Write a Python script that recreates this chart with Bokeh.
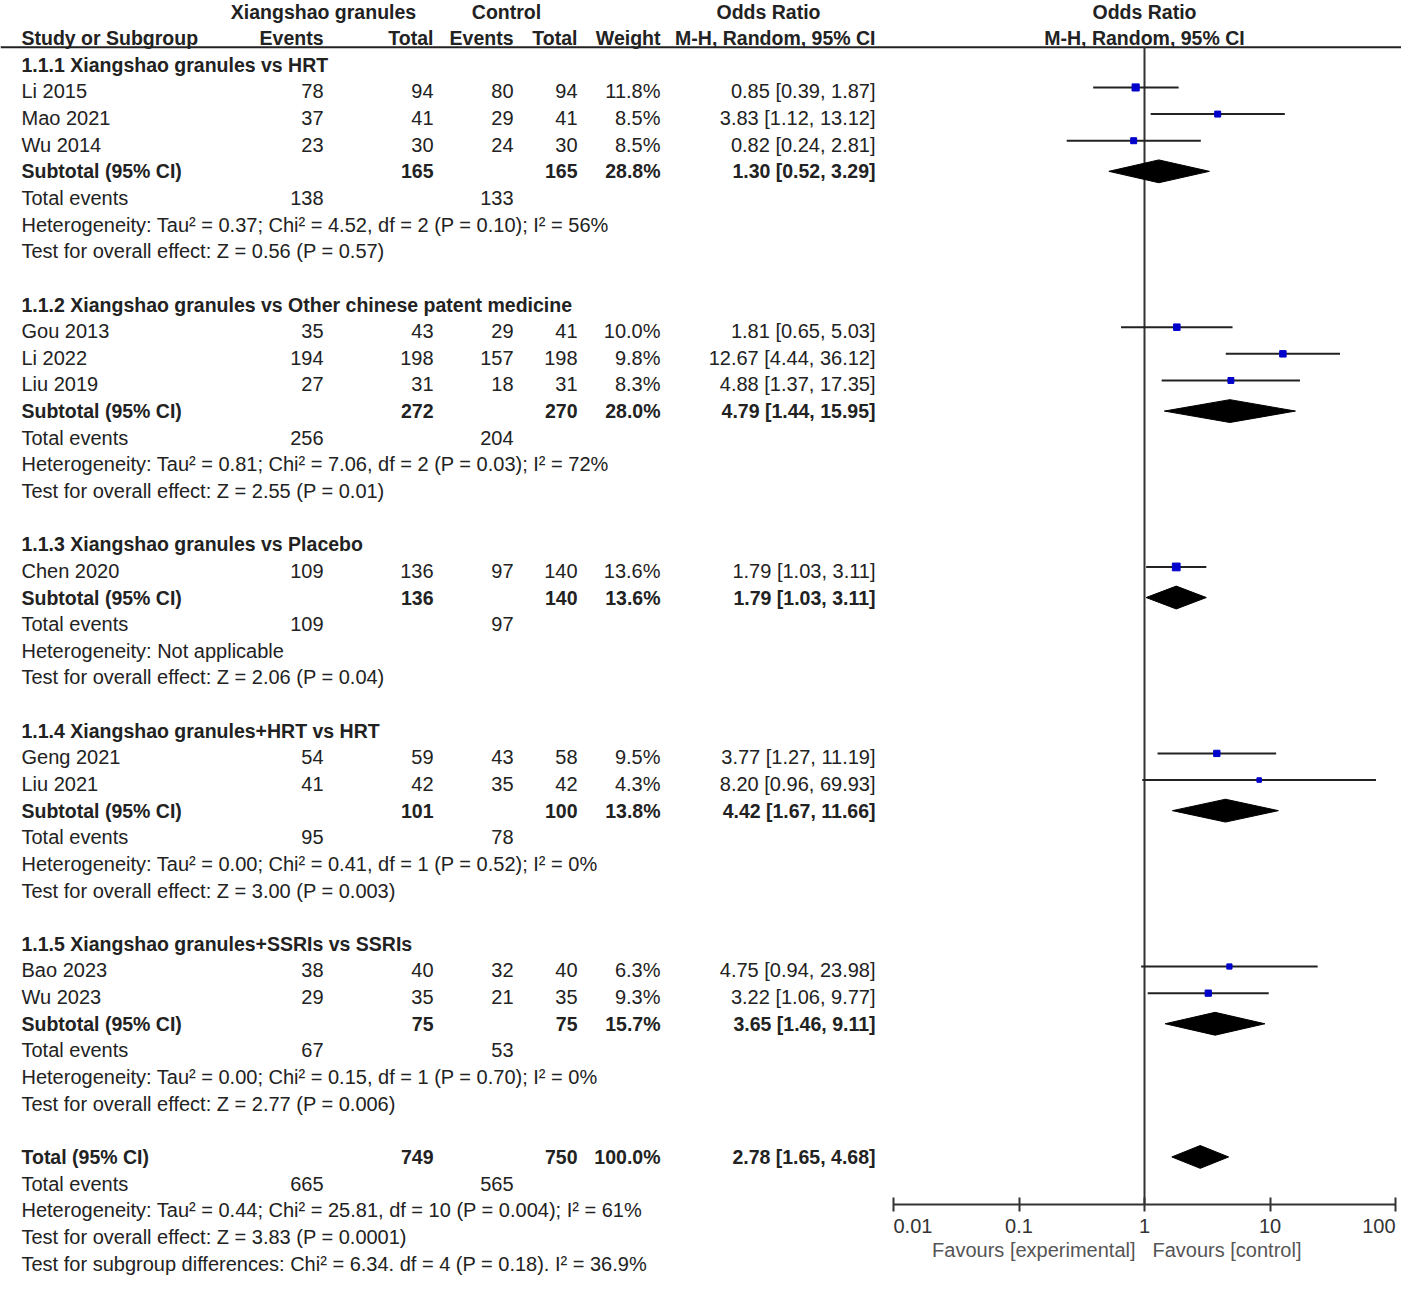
from bokeh.plotting import figure
from bokeh.models import ColumnDataSource, Range1d, LogScale, LogAxis, FixedTicker, CustomJSTickFormatter
from bokeh.core.properties import value
from bokeh.embed import file_html
from bokeh.resources import INLINE

# ---------------- data ----------------
groups = [
    "1.1.1 Xiangshao granules vs HRT",
    "1.1.2 Xiangshao granules vs Other chinese patent medicine",
    "1.1.3 Xiangshao granules vs Placebo",
    "1.1.4 Xiangshao granules+HRT vs HRT",
    "1.1.5 Xiangshao granules+SSRIs vs SSRIs",
]
study = ["Li 2015", "Mao 2021", "Wu 2014", "Gou 2013", "Li 2022", "Liu 2019",
         "Chen 2020", "Geng 2021", "Liu 2021", "Bao 2023", "Wu 2023"]
study_group = [0, 0, 0, 1, 1, 1, 2, 3, 3, 4, 4]
exp_events = [78, 37, 23, 35, 194, 27, 109, 54, 41, 38, 29]
exp_total = [94, 41, 30, 43, 198, 31, 136, 59, 42, 40, 35]
ctrl_events = [80, 29, 24, 29, 157, 18, 97, 43, 35, 32, 21]
ctrl_total = [94, 41, 30, 41, 198, 31, 140, 58, 42, 40, 35]
weight = [11.8, 8.5, 8.5, 10.0, 9.8, 8.3, 13.6, 9.5, 4.3, 6.3, 9.3]
odds = [0.85, 3.83, 0.82, 1.81, 12.67, 4.88, 1.79, 3.77, 8.20, 4.75, 3.22]
ci_low = [0.39, 1.12, 0.24, 0.65, 4.44, 1.37, 1.03, 1.27, 0.96, 0.94, 1.06]
ci_high = [1.87, 13.12, 2.81, 5.03, 36.12, 17.35, 3.11, 11.19, 69.93, 23.98, 9.77]

sub_exp_total = [165, 272, 136, 101, 75]
sub_ctrl_total = [165, 270, 140, 100, 75]
sub_weight = [28.8, 28.0, 13.6, 13.8, 15.7]
sub_odds = [1.30, 4.79, 1.79, 4.42, 3.65]
sub_low = [0.52, 1.44, 1.03, 1.67, 1.46]
sub_high = [3.29, 15.95, 3.11, 11.66, 9.11]
sub_exp_events = [138, 256, 109, 95, 67]
sub_ctrl_events = [133, 204, 97, 78, 53]
sub_het = [
    "Heterogeneity: Tau\u00b2 = 0.37; Chi\u00b2 = 4.52, df = 2 (P = 0.10); I\u00b2 = 56%",
    "Heterogeneity: Tau\u00b2 = 0.81; Chi\u00b2 = 7.06, df = 2 (P = 0.03); I\u00b2 = 72%",
    "Heterogeneity: Not applicable",
    "Heterogeneity: Tau\u00b2 = 0.00; Chi\u00b2 = 0.41, df = 1 (P = 0.52); I\u00b2 = 0%",
    "Heterogeneity: Tau\u00b2 = 0.00; Chi\u00b2 = 0.15, df = 1 (P = 0.70); I\u00b2 = 0%",
]
sub_test = [
    "Test for overall effect: Z = 0.56 (P = 0.57)",
    "Test for overall effect: Z = 2.55 (P = 0.01)",
    "Test for overall effect: Z = 2.06 (P = 0.04)",
    "Test for overall effect: Z = 3.00 (P = 0.003)",
    "Test for overall effect: Z = 2.77 (P = 0.006)",
]

total_exp_total = 749
total_ctrl_total = 750
total_weight = 100.0
total_odds = 2.78
total_low = 1.65
total_high = 4.68
total_exp_events = 665
total_ctrl_events = 565
total_het = "Heterogeneity: Tau\u00b2 = 0.44; Chi\u00b2 = 25.81, df = 10 (P = 0.004); I\u00b2 = 61%"
total_test = "Test for overall effect: Z = 3.83 (P = 0.0001)"
subgroup_test = "Test for subgroup differences: Chi\u00b2 = 6.34. df = 4 (P = 0.18). I\u00b2 = 36.9%"

axis_ticks = [0.01, 0.1, 1, 10, 100]
axis_tick_labels = ["0.01", "0.1", "1", "10", "100"]
favours_left = "Favours [experimental]"
favours_right = "Favours [control]"

# ---------------- layout constants (reference pixel coordinates) ----------------
W, H = 1401, 1275
ROW0_Y = 14.0          # reference y of first text row
ROW_H = 26.83          # reference row pitch
ONE_PX, DECADE_PX = 1144.0, 125.5
N_ROWS_SPAN = 47       # last text row index
FIG_ROW0, FIG_ROWN = 11.0, 1263.0   # where first/last row land in the figure

def row_of(ypx):
    return (ypx - ROW0_Y) / ROW_H

C_STUDY, C_EE, C_ET, C_CE, C_CT, C_W, C_OR = 21, 323, 433, 513, 577, 660, 875
H_XG, H_CTRL, H_OR = 323, 506, 768

TXT = "#222222"
FONT = value("Liberation Sans")
REG_SIZE = "20px"
BOLD_SIZE = "19.5px"

# ---------------- build rows ----------------
reg = {"left": [], "right": []}
bold = {"left": [], "right": [], "center": []}

def add(store, align, x, r, t):
    store[align].append((x, r, t))

add(bold, "center", H_XG, 0, "Xiangshao granules")
add(bold, "center", H_CTRL, 0, "Control")
add(bold, "center", H_OR, 0, "Odds Ratio")
add(bold, "left", C_STUDY, 1, "Study or Subgroup")
add(bold, "right", C_EE, 1, "Events")
add(bold, "right", C_ET, 1, "Total")
add(bold, "right", C_CE, 1, "Events")
add(bold, "right", C_CT, 1, "Total")
add(bold, "right", C_W, 1, "Weight")
add(bold, "right", C_OR, 1, "M-H, Random, 95% CI")

def ci_text(o, l, h):
    return "%.2f [%.2f, %.2f]" % (o, l, h)

pt_rows, pt_x, pt_lo, pt_hi, pt_w = [], [], [], [], []
dia_rows, dia_x, dia_lo, dia_hi = [], [], [], []

r = 2
for g, title in enumerate(groups):
    add(bold, "left", C_STUDY, r, title)
    r += 1
    for i, name in enumerate(study):
        if study_group[i] != g:
            continue
        add(reg, "left", C_STUDY, r, name)
        add(reg, "right", C_EE, r, str(exp_events[i]))
        add(reg, "right", C_ET, r, str(exp_total[i]))
        add(reg, "right", C_CE, r, str(ctrl_events[i]))
        add(reg, "right", C_CT, r, str(ctrl_total[i]))
        add(reg, "right", C_W, r, "%.1f%%" % weight[i])
        add(reg, "right", C_OR, r, ci_text(odds[i], ci_low[i], ci_high[i]))
        pt_rows.append(r); pt_x.append(odds[i]); pt_lo.append(ci_low[i])
        pt_hi.append(ci_high[i]); pt_w.append(weight[i])
        r += 1
    add(bold, "left", C_STUDY, r, "Subtotal (95% CI)")
    add(bold, "right", C_ET, r, str(sub_exp_total[g]))
    add(bold, "right", C_CT, r, str(sub_ctrl_total[g]))
    add(bold, "right", C_W, r, "%.1f%%" % sub_weight[g])
    add(bold, "right", C_OR, r, ci_text(sub_odds[g], sub_low[g], sub_high[g]))
    dia_rows.append(r); dia_x.append(sub_odds[g]); dia_lo.append(sub_low[g]); dia_hi.append(sub_high[g])
    r += 1
    add(reg, "left", C_STUDY, r, "Total events")
    add(reg, "right", C_EE, r, str(sub_exp_events[g]))
    add(reg, "right", C_CE, r, str(sub_ctrl_events[g]))
    r += 1
    add(reg, "left", C_STUDY, r, sub_het[g]); r += 1
    add(reg, "left", C_STUDY, r, sub_test[g]); r += 1
    r += 1

add(bold, "left", C_STUDY, r, "Total (95% CI)")
add(bold, "right", C_ET, r, str(total_exp_total))
add(bold, "right", C_CT, r, str(total_ctrl_total))
add(bold, "right", C_W, r, "%.1f%%" % total_weight)
add(bold, "right", C_OR, r, ci_text(total_odds, total_low, total_high))
dia_rows.append(r); dia_x.append(total_odds); dia_lo.append(total_low); dia_hi.append(total_high)
r += 1
add(reg, "left", C_STUDY, r, "Total events")
add(reg, "right", C_EE, r, str(total_exp_events))
add(reg, "right", C_CE, r, str(total_ctrl_events))
r += 1
add(reg, "left", C_STUDY, r, total_het); r += 1
add(reg, "left", C_STUDY, r, total_test); r += 1
add(reg, "left", C_STUDY, r, subgroup_test); r += 1

# ---------------- figure ----------------
pitch = (FIG_ROWN - FIG_ROW0) / N_ROWS_SPAN
y_top = -FIG_ROW0 / pitch
y_bot = (H - FIG_ROW0) / pitch

p = figure(width=W, height=H,
           x_range=Range1d(0, W),
           y_range=Range1d(y_bot, y_top),
           x_axis_type=None, y_axis_type=None,
           output_backend="svg", toolbar_location=None,
           min_border=0, outline_line_color=None,
           background_fill_color="white", border_fill_color="white")

lo_log = (0 - ONE_PX) / DECADE_PX
hi_log = (W - ONE_PX) / DECADE_PX
p.extra_x_ranges = {"or": Range1d(10 ** lo_log, 10 ** hi_log)}
p.extra_x_scales = {"or": LogScale()}

HEADER_ROW = row_of(50)
AXIS_ROW = row_of(1216)
TICKLAB_ROW = row_of(1237)
FAV_ROW = row_of(1261)

# header rule
p.segment(x0=[0], x1=[1412], y0=[HEADER_ROW], y1=[HEADER_ROW], line_color="#222222", line_width=2)

# texts
for align, items in reg.items():
    if not items:
        continue
    src = ColumnDataSource(dict(x=[a[0] for a in items], y=[a[1] for a in items], t=[a[2] for a in items]))
    p.text(x="x", y="y", text="t", source=src, text_align=align, text_baseline="middle",
           text_font=FONT, text_font_size=REG_SIZE, text_color=TXT)
for align, items in bold.items():
    if not items:
        continue
    src = ColumnDataSource(dict(x=[a[0] for a in items], y=[a[1] for a in items], t=[a[2] for a in items]))
    p.text(x="x", y="y", text="t", source=src, text_align=align, text_baseline="middle",
           text_font=FONT, text_font_size=BOLD_SIZE, text_font_style="bold", text_color=TXT)

# right-hand header (centred on OR = 1)
p.text(x=[1, 1], y=[0, 1], text=["Odds Ratio", "M-H, Random, 95% CI"], x_range_name="or",
       text_align="center", text_baseline="middle", text_font=FONT,
       text_font_size=BOLD_SIZE, text_font_style="bold", text_color=TXT)

# line of no effect
p.segment(x0=[1], x1=[1], y0=[HEADER_ROW], y1=[AXIS_ROW], x_range_name="or",
          line_color="#333333", line_width=2)

# study CIs and points
PT_OFF = -4.0 / ROW_H
pt_y = [rr + PT_OFF for rr in pt_rows]
p.segment(x0=pt_lo, x1=pt_hi, y0=pt_y, y1=pt_y, x_range_name="or",
          line_color="#222222", line_width=2)
p.scatter(x=pt_x, y=pt_y, size=[3.0 + 0.35 * w for w in pt_w], marker="square",
          x_range_name="or", fill_color="#0000CC", line_color="#0000CC")

# diamonds
DH = 11.5 / ROW_H
xs = [[l, o, h, o] for l, o, h in zip(dia_lo, dia_x, dia_hi)]
ys = [[rr, rr - DH, rr, rr + DH] for rr in dia_rows]
p.patches(xs=xs, ys=ys, x_range_name="or", fill_color="black", line_color="black", line_width=1)

# bottom axis
ax = LogAxis(x_range_name="or", fixed_location=AXIS_ROW, bounds=(axis_ticks[0], axis_ticks[-1]),
             ticker=FixedTicker(ticks=axis_ticks, minor_ticks=[]),
             formatter=CustomJSTickFormatter(code="return ''"),
             major_tick_in=7, major_tick_out=7, minor_tick_line_color=None,
             axis_line_width=2, major_tick_line_width=2,
             axis_line_color="#333333", major_tick_line_color="#333333")
p.add_layout(ax, "below")

# tick labels (end labels aligned inward, as in the original)
n = len(axis_ticks)
lab_sets = [("left", [0]), ("center", list(range(1, n - 1))), ("right", [n - 1])]
for align, idx in lab_sets:
    p.text(x=[axis_ticks[i] for i in idx], y=[TICKLAB_ROW] * len(idx),
           text=[axis_tick_labels[i] for i in idx], x_range_name="or",
           text_align=align, text_baseline="middle", text_font=FONT,
           text_font_size="20px", text_color="#333333")

p.text(x=[1], y=[FAV_ROW], text=[favours_left], x_range_name="or", x_offset=-9,
       text_align="right", text_baseline="middle", text_font=FONT,
       text_font_size="20px", text_color="#555555")
p.text(x=[1], y=[FAV_ROW], text=[favours_right], x_range_name="or", x_offset=8,
       text_align="left", text_baseline="middle", text_font=FONT,
       text_font_size="20px", text_color="#555555")

open("out.html", "w").write(file_html(p, INLINE))
